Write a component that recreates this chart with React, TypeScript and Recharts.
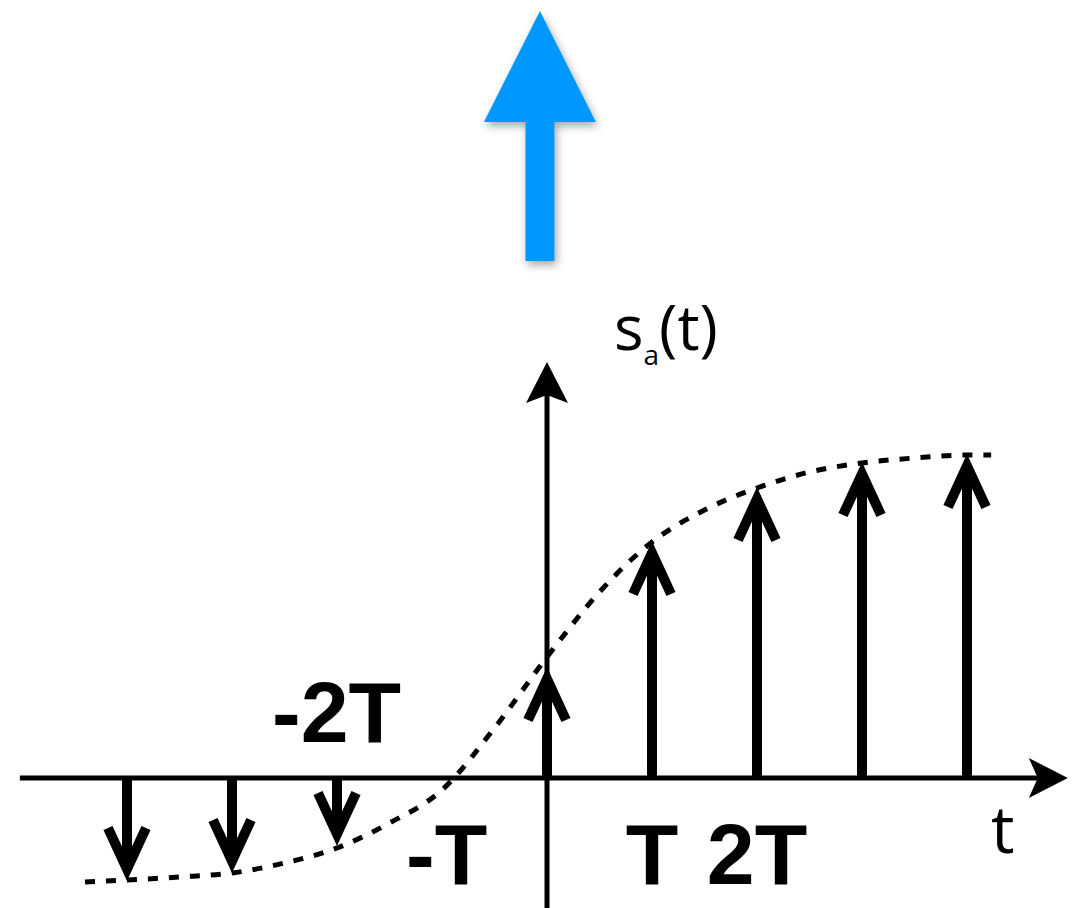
import React from 'react';
import { ComposedChart, Line, XAxis, YAxis, ReferenceLine, Customized } from 'recharts';

// sampled impulses s_a(nT)
const SAMPLE_T = [-4, -3, -2, 0, 1, 2, 3, 4];
const SAMPLE_V = [-1.02, -0.94, -0.67, 1.1, 2.36, 2.9, 3.15, 3.23];

// continuous envelope (dashed)
const CURVE_T = [-4.4, -4, -3.5, -3, -2.5, -2, -1.5, -1, -0.5, 0, 0.5, 1, 1.5, 2, 2.5, 3, 3.5, 4, 4.23];
const CURVE_V = [-1.04, -1.02, -0.99, -0.95, -0.85, -0.7, -0.45, -0.12, 0.5, 1.21, 1.86, 2.36, 2.68, 2.9, 3.06, 3.15, 3.2, 3.23, 3.23];

// axis extents
const T_AXIS = [-5.02, 4.96];
const V_AXIS = [-1.3, 4.16];
const BLUE_ARROW = { t: -0.067, from: 5.17, to: 7.67 };

const T_DOMAIN = [-5.2095, 5.0381];
const V_DOMAIN = [-1.3, 7.78];

const W = 1076;
const H = 908;

const curveData = CURVE_T.map((t, i) => ({ t, v: CURVE_V[i] }));

// stem with open chevron head, tip at (x2, y2)
const Stem = (props: any) => {
    const { x1, y1, x2, y2 } = props;
    const dir = y1 > y2 ? 1 : -1;
    const vy = y2 + dir * 11;
    return (
        <g>
            <line x1={x1} y1={y1} x2={x2} y2={vy} stroke="#000" strokeWidth={10} />
            <polyline
                points={`${x2 - 19},${vy + dir * 41} ${x2},${vy} ${x2 + 19},${vy + dir * 41}`}
                fill="none"
                stroke="#000"
                strokeWidth={10}
                strokeLinejoin="miter"
                strokeMiterlimit={10}
            />
        </g>
    );
};

const HAxis = (props: any) => {
    const { x1, y1, x2 } = props;
    return (
        <g>
            <line x1={x1} y1={y1} x2={x2 - 30} y2={y1} stroke="#000" strokeWidth={5} />
            <polygon points={`${x2},${y1} ${x2 - 39},${y1 - 20} ${x2 - 30},${y1} ${x2 - 39},${y1 + 20}`} fill="#000" />
        </g>
    );
};

const VAxis = (props: any) => {
    const { x1, y1, y2 } = props;
    return (
        <g>
            <line x1={x1} y1={y1} x2={x1} y2={y2 + 32} stroke="#000" strokeWidth={5} />
            <polygon points={`${x1},${y2} ${x1 - 21},${y2 + 41} ${x1},${y2 + 33} ${x1 + 21},${y2 + 41}`} fill="#000" />
        </g>
    );
};

const BlueArrow = (props: any) => {
    const { x1, y1, y2 } = props;
    const headH = 111;
    const headW = 56;
    const shaftW = 14.5;
    const x = x1;
    return (
        <g filter="url(#arrowShadow)">
            <polygon
                points={[
                    [x - shaftW, y1],
                    [x - shaftW, y2 + headH],
                    [x - headW, y2 + headH],
                    [x, y2],
                    [x + headW, y2 + headH],
                    [x + shaftW, y2 + headH],
                    [x + shaftW, y1],
                ].map(p => p.join(',')).join(' ')}
                fill="#0098FF"
            />
        </g>
    );
};

const Labels = () => (
    <g>
        <defs>
            <filter id="arrowShadow" x="-50%" y="-20%" width="200%" height="150%">
                <feDropShadow dx={2} dy={4} stdDeviation={4} floodColor="#000" floodOpacity={0.35} />
            </filter>
        </defs>
        <g fontFamily="'Liberation Sans', Arial, sans-serif" fontWeight={700} fontSize={86} fill="#000">
            <text x={272} y={742}>-2T</text>
            <text x={406} y={884}>-T</text>
            <text x={652} y={884} textAnchor="middle">T</text>
            <text x={757} y={884} textAnchor="middle">2T</text>
        </g>
        <text x={614} y={350} fontFamily="'Open Sans', sans-serif" fontSize={62} fill="#000">
            s<tspan fontSize={28} dy={15}>a</tspan><tspan fontSize={62} dy={-15}>(t)</tspan>
        </text>
        <text x={991} y={853} fontFamily="'Open Sans', sans-serif" fontSize={66} fill="#000">t</text>
    </g>
);

export default function App() {
    return (
        <div style={{ position: 'absolute', left: 0, top: 0, width: W, height: H, background: '#ffffff' }}>
            <ComposedChart width={W} height={H} data={curveData} margin={{ top: 0, right: 0, bottom: 0, left: 0 }}>
                <XAxis dataKey="t" type="number" domain={T_DOMAIN} allowDataOverflow hide />
                <YAxis type="number" domain={V_DOMAIN} allowDataOverflow hide />
                <Customized component={<Labels />} />
                <ReferenceLine
                    segment={[{ x: BLUE_ARROW.t, y: BLUE_ARROW.from }, { x: BLUE_ARROW.t, y: BLUE_ARROW.to }]}
                    ifOverflow="visible"
                    shape={BlueArrow}
                />
                <ReferenceLine
                    segment={[{ x: T_AXIS[0], y: 0 }, { x: T_AXIS[1], y: 0 }]}
                    ifOverflow="visible"
                    shape={HAxis}
                />
                <ReferenceLine
                    segment={[{ x: 0, y: V_AXIS[0] }, { x: 0, y: V_AXIS[1] }]}
                    ifOverflow="visible"
                    shape={VAxis}
                />
                <Line
                    dataKey="v"
                    type="monotone"
                    stroke="#000"
                    strokeWidth={5}
                    strokeDasharray="10 11"
                    dot={false}
                    activeDot={false}
                    isAnimationActive={false}
                />
                {SAMPLE_T.map((t, i) => (
                    <ReferenceLine
                        key={`stem-${t}`}
                        segment={[{ x: t, y: 0 }, { x: t, y: SAMPLE_V[i] }]}
                        ifOverflow="visible"
                        shape={Stem}
                    />
                ))}
            </ComposedChart>
        </div>
    );
}
